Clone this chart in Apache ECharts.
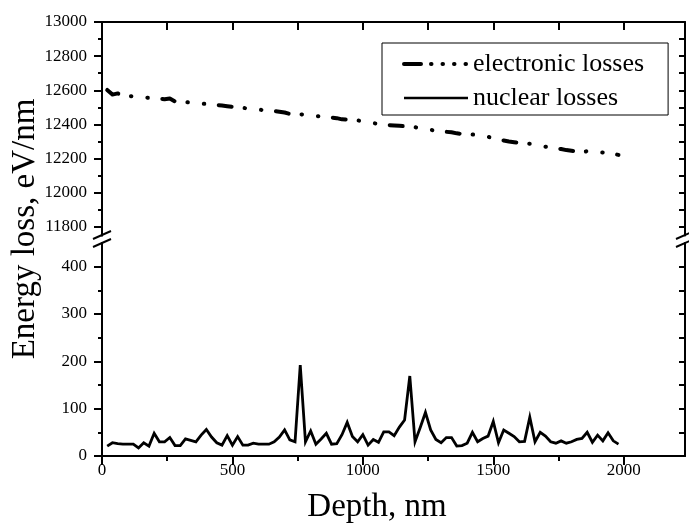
<!DOCTYPE html>
<html>
<head>
<meta charset="utf-8">
<script src="https://cdn.jsdelivr.net/npm/echarts@6/dist/echarts.min.js"></script>
<style>
html,body{margin:0;padding:0;background:#fff;}
#chart{width:689px;height:529px;}
</style>
</head>
<body>
<div id="chart"></div>
<script>
// ---- data ----
const depth = [
  20, 40, 60, 80, 100, 120, 140, 160, 180, 200,
  220, 240, 260, 280, 300, 320, 340, 360, 380, 400,
  420, 440, 460, 480, 500, 520, 540, 560, 580, 600,
  620, 640, 660, 680, 700, 720, 740, 760, 780, 800,
  820, 840, 860, 880, 900, 920, 940, 960, 980, 1000,
  1020, 1040, 1060, 1080, 1100, 1120, 1140, 1160, 1180, 1200,
  1220, 1240, 1260, 1280, 1300, 1320, 1340, 1360, 1380, 1400,
  1420, 1440, 1460, 1480, 1500, 1520, 1540, 1560, 1580, 1600,
  1620, 1640, 1660, 1680, 1700, 1720, 1740, 1760, 1780, 1800,
  1820, 1840, 1860, 1880, 1900, 1920, 1940, 1960, 1980
];
const electronic = [
  12602, 12575, 12582, 12570, 12567, 12564, 12561, 12558, 12556, 12554,
  12551, 12548, 12552, 12535, 12537, 12532, 12527, 12524, 12522, 12520,
  12517, 12514, 12511, 12507, 12503, 12500, 12497, 12494, 12490, 12487,
  12484, 12482, 12479, 12475, 12470, 12462, 12465, 12460, 12455, 12451,
  12449, 12446, 12443, 12440, 12437, 12430, 12429, 12428, 12424, 12419,
  12412, 12408, 12403, 12398, 12396, 12394, 12392, 12390, 12387, 12384,
  12378, 12372, 12368, 12364, 12360, 12357, 12354, 12348, 12345, 12343,
  12341, 12339, 12335, 12328, 12320, 12312, 12306, 12300, 12296, 12292,
  12290, 12287, 12280, 12274, 12270, 12266, 12262, 12256, 12250, 12246,
  12242, 12236, 12244, 12243, 12240, 12236, 12232, 12228, 12222
];
const nuclear = [
  21, 28, 26, 25, 25, 25, 17, 28, 21, 48,
  30, 30, 39, 22, 22, 36, 33, 30, 44, 56,
  40, 28, 23, 43, 23, 41, 23, 23, 27, 25,
  25, 25, 30, 40, 55, 34, 30, 192, 30, 53,
  25, 36, 48, 25, 26, 45, 71, 41, 30, 45,
  23, 35, 29, 51, 51, 43, 61, 76, 169, 30,
  60, 92, 55, 35, 28, 39, 39, 21, 22, 27,
  50, 30, 37, 42, 73, 28, 55, 48, 41, 30,
  31, 82, 30, 50, 42, 30, 27, 32, 27, 30,
  35, 37, 50, 29, 44, 32, 49, 32, 25
];
const seriesNames = ['electronic losses', 'nuclear losses'];
const xMajorTicks = [0, 500, 1000, 1500, 2000];
const xMinorTicks = [250, 750, 1250, 1750];
const xTopTicks = [250, 500, 750, 1000, 1250, 1500, 1750, 2000];
const topMajor = [11800, 12000, 12200, 12400, 12600, 12800, 13000];
const topMinor = [11900, 12100, 12300, 12500, 12700, 12900];
const topRight = [11800, 11900, 12000, 12100, 12200, 12300, 12400, 12500, 12600, 12700, 12800, 12900];
const botMajor = [0, 100, 200, 300, 400];
const botMinor = [50, 150, 250, 350];
const botRight = [50, 100, 150, 200, 250, 300, 350, 400];
const xTitle = 'Depth, nm';
const yTitle = 'Energy loss, eV/nm';

// ---- chart ----
const FONT = 'Liberation Serif';
const X_MAX = 2235;
const TOP_MIN = 11750, TOP_MAX = 13000;
const BOT_MIN = 0, BOT_MAX = 450;
const GL = 102, GW = 583;
const axisLine = {show: true, lineStyle: {color: '#000', width: 2}};
const lbl = {color: '#000', fontSize: 17, fontFamily: FONT, formatter: v => String(v)};
const noSymbol = {opacity: 0, borderWidth: 0};

function pairs(xs, ys) { return xs.map((x, i) => [x, ys[i]]); }

const chart = echarts.init(document.getElementById('chart'), null, {renderer: 'canvas'});
const option = {
  animation: false,
  backgroundColor: '#fff',
  textStyle: {fontFamily: FONT, color: '#000'},
  grid: [
    {left: GL, width: GW, top: 22, height: 213.5},
    {left: GL, width: GW, top: 243, height: 213}
  ],
  legend: {
    show: true,
    orient: 'vertical',
    left: 382, top: 43,
    padding: [6, 24, 2, 20],
    itemGap: 4,
    itemWidth: 64, itemHeight: 14,
    borderColor: '#000', borderWidth: 1,
    textStyle: {fontSize: 26, fontFamily: FONT, color: '#000', lineHeight: 30},
    data: [
      {name: seriesNames[0], itemStyle: noSymbol,
       lineStyle: {type: [17, 10, 0.5, 11, 0.5, 11, 0.5, 11, 0.5, 20], width: 4, cap: 'round', color: '#000'}},
      {name: seriesNames[1], itemStyle: noSymbol, lineStyle: {width: 2.5, color: '#000'}}
    ]
  },
  xAxis: [
    {gridIndex: 0, type: 'value', position: 'top', min: 0, max: X_MAX,
     axisLine: axisLine, splitLine: {show: false},
     axisTick: {show: true, inside: true, length: 8, lineStyle: {width: 2, color: '#000'}, customValues: xTopTicks},
     axisLabel: {show: false}},
    {gridIndex: 1, type: 'value', position: 'bottom', min: 0, max: X_MAX,
     axisLine: axisLine, splitLine: {show: false},
     axisTick: {show: true, inside: false, length: 9, lineStyle: {width: 2, color: '#000'}, customValues: xMajorTicks},
     axisLabel: Object.assign({margin: 6, customValues: xMajorTicks}, lbl),
     name: xTitle, nameLocation: 'middle', nameGap: 35,
     nameTextStyle: {fontSize: 33, fontFamily: FONT, color: '#000', padding: [0, 33, 0, 0]}},
    {gridIndex: 1, type: 'value', position: 'bottom', min: 0, max: X_MAX,
     axisLine: axisLine, splitLine: {show: false},
     axisTick: {show: true, inside: false, length: 5, lineStyle: {width: 2, color: '#000'}, customValues: xMinorTicks},
     axisLabel: {show: false}}
  ],
  yAxis: [
    {gridIndex: 0, type: 'value', position: 'left', min: TOP_MIN, max: TOP_MAX,
     axisLine: axisLine, splitLine: {show: false},
     axisTick: {show: true, length: 8, lineStyle: {width: 2, color: '#000'}, customValues: topMajor},
     axisLabel: Object.assign({margin: 15, customValues: topMajor}, lbl)},
    {gridIndex: 0, type: 'value', position: 'left', min: TOP_MIN, max: TOP_MAX,
     axisLine: axisLine, splitLine: {show: false},
     axisTick: {show: true, length: 4, lineStyle: {width: 2, color: '#000'}, customValues: topMinor},
     axisLabel: {show: false}},
    {gridIndex: 0, type: 'value', position: 'right', min: TOP_MIN, max: TOP_MAX,
     axisLine: axisLine, splitLine: {show: false},
     axisTick: {show: true, inside: true, length: 6, lineStyle: {width: 2, color: '#000'}, customValues: topRight},
     axisLabel: {show: false}},
    {gridIndex: 1, type: 'value', position: 'left', min: BOT_MIN, max: BOT_MAX,
     axisLine: axisLine, splitLine: {show: false},
     axisTick: {show: true, length: 8, lineStyle: {width: 2, color: '#000'}, customValues: botMajor},
     axisLabel: Object.assign({margin: 15, customValues: botMajor}, lbl)},
    {gridIndex: 1, type: 'value', position: 'left', min: BOT_MIN, max: BOT_MAX,
     axisLine: axisLine, splitLine: {show: false},
     axisTick: {show: true, length: 4, lineStyle: {width: 2, color: '#000'}, customValues: botMinor},
     axisLabel: {show: false}},
    {gridIndex: 1, type: 'value', position: 'right', min: BOT_MIN, max: BOT_MAX,
     axisLine: axisLine, splitLine: {show: false},
     axisTick: {show: true, inside: true, length: 6, lineStyle: {width: 2, color: '#000'}, customValues: botRight},
     axisLabel: {show: false}}
  ],
  series: [
    {name: seriesNames[0], type: 'line', xAxisIndex: 0, yAxisIndex: 0,
     data: pairs(depth, electronic), showSymbol: false, symbol: 'none',
     lineStyle: {color: '#000', width: 4, type: [13, 13, 0.5, 16, 0.5, 14.5], cap: 'round', join: 'round'},
     itemStyle: {color: '#000'}},
    {name: seriesNames[1], type: 'line', xAxisIndex: 1, yAxisIndex: 3,
     data: pairs(depth, nuclear), showSymbol: false, symbol: 'none',
     lineStyle: {color: '#000', width: 2.8, join: 'miter', miterLimit: 10},
     itemStyle: {color: '#000'}}
  ],
  graphic: [
    {type: 'text', x: 25, y: 229, rotation: Math.PI / 2,
     style: {text: yTitle, fontSize: 33, fontFamily: FONT, fill: '#000', align: 'center', verticalAlign: 'middle'}},
    {type: 'line', shape: {x1: 93, y1: 239, x2: 111, y2: 231}, style: {stroke: '#000', lineWidth: 2}},
    {type: 'line', shape: {x1: 93, y1: 247, x2: 111, y2: 239}, style: {stroke: '#000', lineWidth: 2}},
    {type: 'line', shape: {x1: 676, y1: 239, x2: 694, y2: 231}, style: {stroke: '#000', lineWidth: 2}},
    {type: 'line', shape: {x1: 676, y1: 247, x2: 694, y2: 239}, style: {stroke: '#000', lineWidth: 2}}
  ]
};
chart.setOption(option);
</script>
</body>
</html>
